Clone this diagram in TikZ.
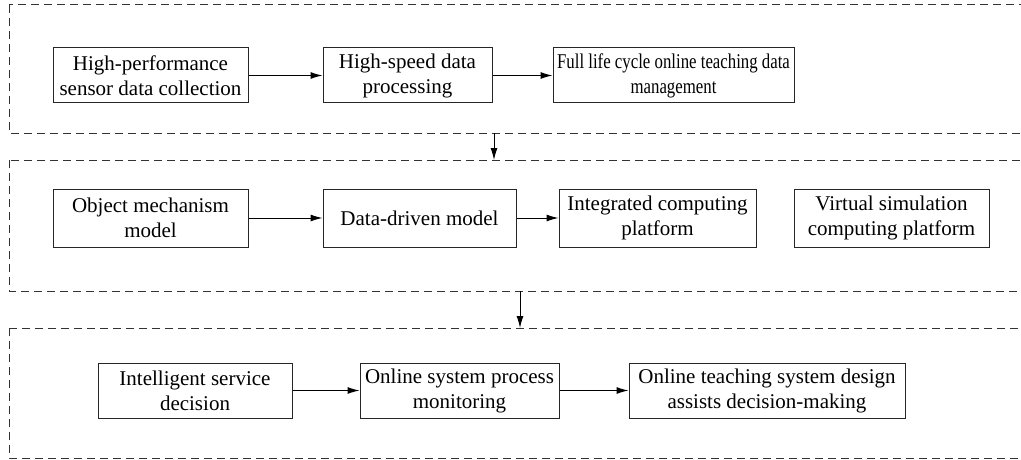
\documentclass[tikz,border=0pt]{standalone}
\usepackage{fontspec}
\usepackage{graphicx}
\setmainfont{Liberation Serif}
\usetikzlibrary{arrows.meta}
\begin{document}
\begin{tikzpicture}[x=1pt,y=-1pt,
  panel/.style={draw=black!80,line width=1pt,dash pattern=on 8pt off 5pt},
  blk/.style={draw=black!85,line width=1pt,align=center,inner sep=0pt,
    font=\fontsize{21}{25}\selectfont},
  arr/.style={draw=black,line width=1pt,-{Latex[length=12pt,width=7pt]}}]
\useasboundingbox (0,0) rectangle (1021,460);
\begin{scope}
\clip (0,0) rectangle (1021,460);
\draw[panel] (9,5) rectangle (1040,133);
\draw[panel] (9,160) rectangle (1040,291);
\draw[panel] (9,328) rectangle (1040,458);
\end{scope}
% panel 1
\node[blk,minimum width=195pt,minimum height=55pt] (a) at (150.5,75.5) {High-performance\\sensor data collection};
\node[blk,minimum width=169pt,minimum height=55pt] (b) at (407.5,75.5) {High-speed data\\processing};
\node[blk,minimum width=241pt,minimum height=55pt] (c) at (673.5,75.5) {\scalebox{0.8}[1]{Full life cycle online teaching data}\\\scalebox{0.8}[1]{management}};
% panel 2
\node[blk,minimum width=195pt,minimum height=58pt] (d) at (150.5,218) {Object mechanism\\model};
\node[blk,minimum width=193pt,minimum height=58pt] (e) at (419.5,218) {Data-driven model};
\node[blk,minimum width=197pt,minimum height=58pt] (f) at (657.5,218) {Integrated computing\\platform};
\node[blk,minimum width=195pt,minimum height=58pt] (g) at (891.5,218) {Virtual simulation\\computing platform};
% panel 3
\node[blk,minimum width=194pt,minimum height=55pt] (h) at (195,390.5) {Intelligent service\\decision};
\node[blk,minimum width=199pt,minimum height=55pt] (i) at (459.5,390.5) {Online system process\\monitoring};
\node[blk,minimum width=276pt,minimum height=55pt] (j) at (767,390.5) {Online teaching system design\\assists decision-making};
\coordinate (p1b) at (494,133);
\coordinate (p2t) at (494,160);
\coordinate (p2b) at (520,291);
\coordinate (p3t) at (520,328);
\draw[arr] (a) -- (b);
\draw[arr] (b) -- (c);
\draw[arr] (d) -- (e);
\draw[arr] (e) -- (f);
\draw[arr] (h) -- (i);
\draw[arr] (i) -- (j);
\draw[arr] (p1b) -- (p2t);
\draw[arr] (p2b) -- (p3t);
\end{tikzpicture}
\end{document}
